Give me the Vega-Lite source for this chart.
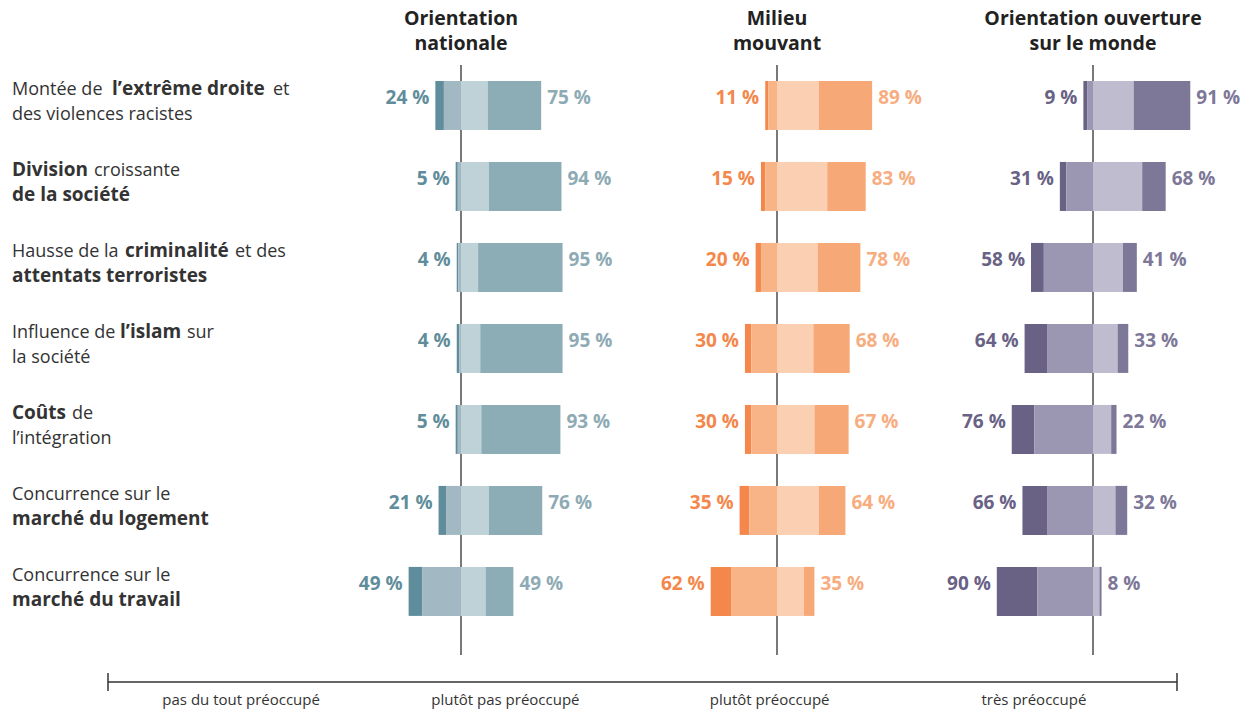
{
  "$schema": "https://vega.github.io/schema/vega-lite/v6.json",
  "padding": {"left": 12, "top": 8, "right": 0, "bottom": 0},
  "spacing": 8,
  "config": {
    "view": {"stroke": null},
    "font": "Open Sans",
    "title": {"font": "Open Sans", "fontSize": 19.5, "fontWeight": "bold", "color": "#222222", "lineHeight": 25, "offset": 10, "anchor": "middle"},
    "text": {"font": "Open Sans"}
  },
  "datasets": {
    "seg": [
      {"g":"nat","t":"Extrême droite","c":"pas du tout","v":-8,"o":2},
      {"g":"nat","t":"Extrême droite","c":"plutôt pas","v":-16,"o":1},
      {"g":"nat","t":"Extrême droite","c":"plutôt","v":25,"o":1},
      {"g":"nat","t":"Extrême droite","c":"très","v":50,"o":2},
      {"g":"nat","t":"Division","c":"pas du tout","v":-2,"o":2},
      {"g":"nat","t":"Division","c":"plutôt pas","v":-3,"o":1},
      {"g":"nat","t":"Division","c":"plutôt","v":26,"o":1},
      {"g":"nat","t":"Division","c":"très","v":68,"o":2},
      {"g":"nat","t":"Criminalité","c":"pas du tout","v":-1.5,"o":2},
      {"g":"nat","t":"Criminalité","c":"plutôt pas","v":-2.5,"o":1},
      {"g":"nat","t":"Criminalité","c":"plutôt","v":16,"o":1},
      {"g":"nat","t":"Criminalité","c":"très","v":79,"o":2},
      {"g":"nat","t":"Islam","c":"pas du tout","v":-2.5,"o":2},
      {"g":"nat","t":"Islam","c":"plutôt pas","v":-1.5,"o":1},
      {"g":"nat","t":"Islam","c":"plutôt","v":18,"o":1},
      {"g":"nat","t":"Islam","c":"très","v":77,"o":2},
      {"g":"nat","t":"Intégration","c":"pas du tout","v":-2,"o":2},
      {"g":"nat","t":"Intégration","c":"plutôt pas","v":-3,"o":1},
      {"g":"nat","t":"Intégration","c":"plutôt","v":19,"o":1},
      {"g":"nat","t":"Intégration","c":"très","v":74,"o":2},
      {"g":"nat","t":"Logement","c":"pas du tout","v":-7,"o":2},
      {"g":"nat","t":"Logement","c":"plutôt pas","v":-14,"o":1},
      {"g":"nat","t":"Logement","c":"plutôt","v":26,"o":1},
      {"g":"nat","t":"Logement","c":"très","v":50,"o":2},
      {"g":"nat","t":"Travail","c":"pas du tout","v":-13,"o":2},
      {"g":"nat","t":"Travail","c":"plutôt pas","v":-36,"o":1},
      {"g":"nat","t":"Travail","c":"plutôt","v":23,"o":1},
      {"g":"nat","t":"Travail","c":"très","v":26,"o":2},

      {"g":"mil","t":"Extrême droite","c":"pas du tout","v":-3,"o":2},
      {"g":"mil","t":"Extrême droite","c":"plutôt pas","v":-8,"o":1},
      {"g":"mil","t":"Extrême droite","c":"plutôt","v":39,"o":1},
      {"g":"mil","t":"Extrême droite","c":"très","v":50,"o":2},
      {"g":"mil","t":"Division","c":"pas du tout","v":-4,"o":2},
      {"g":"mil","t":"Division","c":"plutôt pas","v":-11,"o":1},
      {"g":"mil","t":"Division","c":"plutôt","v":47,"o":1},
      {"g":"mil","t":"Division","c":"très","v":36,"o":2},
      {"g":"mil","t":"Criminalité","c":"pas du tout","v":-5,"o":2},
      {"g":"mil","t":"Criminalité","c":"plutôt pas","v":-15,"o":1},
      {"g":"mil","t":"Criminalité","c":"plutôt","v":38,"o":1},
      {"g":"mil","t":"Criminalité","c":"très","v":40,"o":2},
      {"g":"mil","t":"Islam","c":"pas du tout","v":-6,"o":2},
      {"g":"mil","t":"Islam","c":"plutôt pas","v":-24,"o":1},
      {"g":"mil","t":"Islam","c":"plutôt","v":34,"o":1},
      {"g":"mil","t":"Islam","c":"très","v":34,"o":2},
      {"g":"mil","t":"Intégration","c":"pas du tout","v":-6,"o":2},
      {"g":"mil","t":"Intégration","c":"plutôt pas","v":-24,"o":1},
      {"g":"mil","t":"Intégration","c":"plutôt","v":35,"o":1},
      {"g":"mil","t":"Intégration","c":"très","v":32,"o":2},
      {"g":"mil","t":"Logement","c":"pas du tout","v":-9,"o":2},
      {"g":"mil","t":"Logement","c":"plutôt pas","v":-26,"o":1},
      {"g":"mil","t":"Logement","c":"plutôt","v":39,"o":1},
      {"g":"mil","t":"Logement","c":"très","v":25,"o":2},
      {"g":"mil","t":"Travail","c":"pas du tout","v":-19,"o":2},
      {"g":"mil","t":"Travail","c":"plutôt pas","v":-43,"o":1},
      {"g":"mil","t":"Travail","c":"plutôt","v":25,"o":1},
      {"g":"mil","t":"Travail","c":"très","v":10,"o":2},

      {"g":"ouv","t":"Extrême droite","c":"pas du tout","v":-3.5,"o":2},
      {"g":"ouv","t":"Extrême droite","c":"plutôt pas","v":-5.5,"o":1},
      {"g":"ouv","t":"Extrême droite","c":"plutôt","v":38,"o":1},
      {"g":"ouv","t":"Extrême droite","c":"très","v":53,"o":2},
      {"g":"ouv","t":"Division","c":"pas du tout","v":-6,"o":2},
      {"g":"ouv","t":"Division","c":"plutôt pas","v":-25,"o":1},
      {"g":"ouv","t":"Division","c":"plutôt","v":46,"o":1},
      {"g":"ouv","t":"Division","c":"très","v":22,"o":2},
      {"g":"ouv","t":"Criminalité","c":"pas du tout","v":-12,"o":2},
      {"g":"ouv","t":"Criminalité","c":"plutôt pas","v":-46,"o":1},
      {"g":"ouv","t":"Criminalité","c":"plutôt","v":28,"o":1},
      {"g":"ouv","t":"Criminalité","c":"très","v":13,"o":2},
      {"g":"ouv","t":"Islam","c":"pas du tout","v":-21,"o":2},
      {"g":"ouv","t":"Islam","c":"plutôt pas","v":-43,"o":1},
      {"g":"ouv","t":"Islam","c":"plutôt","v":23,"o":1},
      {"g":"ouv","t":"Islam","c":"très","v":10,"o":2},
      {"g":"ouv","t":"Intégration","c":"pas du tout","v":-21,"o":2},
      {"g":"ouv","t":"Intégration","c":"plutôt pas","v":-55,"o":1},
      {"g":"ouv","t":"Intégration","c":"plutôt","v":17,"o":1},
      {"g":"ouv","t":"Intégration","c":"très","v":5,"o":2},
      {"g":"ouv","t":"Logement","c":"pas du tout","v":-23,"o":2},
      {"g":"ouv","t":"Logement","c":"plutôt pas","v":-43,"o":1},
      {"g":"ouv","t":"Logement","c":"plutôt","v":21,"o":1},
      {"g":"ouv","t":"Logement","c":"très","v":11,"o":2},
      {"g":"ouv","t":"Travail","c":"pas du tout","v":-38,"o":2},
      {"g":"ouv","t":"Travail","c":"plutôt pas","v":-52,"o":1},
      {"g":"ouv","t":"Travail","c":"plutôt","v":6,"o":1},
      {"g":"ouv","t":"Travail","c":"très","v":2,"o":2}
    ],
    "tot": [
      {"g":"nat","t":"Extrême droite","l":-24,"lt":"24 %","r":75,"rt":"75 %"},
      {"g":"nat","t":"Division","l":-5,"lt":"5 %","r":94,"rt":"94 %"},
      {"g":"nat","t":"Criminalité","l":-4,"lt":"4 %","r":95,"rt":"95 %"},
      {"g":"nat","t":"Islam","l":-4,"lt":"4 %","r":95,"rt":"95 %"},
      {"g":"nat","t":"Intégration","l":-5,"lt":"5 %","r":93,"rt":"93 %"},
      {"g":"nat","t":"Logement","l":-21,"lt":"21 %","r":76,"rt":"76 %"},
      {"g":"nat","t":"Travail","l":-49,"lt":"49 %","r":49,"rt":"49 %"},
      {"g":"mil","t":"Extrême droite","l":-11,"lt":"11 %","r":89,"rt":"89 %"},
      {"g":"mil","t":"Division","l":-15,"lt":"15 %","r":83,"rt":"83 %"},
      {"g":"mil","t":"Criminalité","l":-20,"lt":"20 %","r":78,"rt":"78 %"},
      {"g":"mil","t":"Islam","l":-30,"lt":"30 %","r":68,"rt":"68 %"},
      {"g":"mil","t":"Intégration","l":-30,"lt":"30 %","r":67,"rt":"67 %"},
      {"g":"mil","t":"Logement","l":-35,"lt":"35 %","r":64,"rt":"64 %"},
      {"g":"mil","t":"Travail","l":-62,"lt":"62 %","r":35,"rt":"35 %"},
      {"g":"ouv","t":"Extrême droite","l":-9,"lt":"9 %","r":91,"rt":"91 %"},
      {"g":"ouv","t":"Division","l":-31,"lt":"31 %","r":68,"rt":"68 %"},
      {"g":"ouv","t":"Criminalité","l":-58,"lt":"58 %","r":41,"rt":"41 %"},
      {"g":"ouv","t":"Islam","l":-64,"lt":"64 %","r":33,"rt":"33 %"},
      {"g":"ouv","t":"Intégration","l":-76,"lt":"76 %","r":22,"rt":"22 %"},
      {"g":"ouv","t":"Logement","l":-66,"lt":"66 %","r":32,"rt":"32 %"},
      {"g":"ouv","t":"Travail","l":-90,"lt":"90 %","r":8,"rt":"8 %"}
    ],
    "lab": [
      {"t":"Extrême droite","line":"1","k":"n","s":"Montée de"},
      {"t":"Extrême droite","line":"1","k":"ext","s":"l’extrême droite"},
      {"t":"Extrême droite","line":"1","k":"et","s":"et"},
      {"t":"Extrême droite","line":"2","k":"n","s":"des violences racistes"},
      {"t":"Division","line":"1","k":"b","s":"Division"},
      {"t":"Division","line":"1","k":"cro","s":"croissante"},
      {"t":"Division","line":"2","k":"b","s":"de la société"},
      {"t":"Criminalité","line":"1","k":"n","s":"Hausse de la"},
      {"t":"Criminalité","line":"1","k":"cri","s":"criminalité"},
      {"t":"Criminalité","line":"1","k":"etdes","s":"et des"},
      {"t":"Criminalité","line":"2","k":"b","s":"attentats terroristes"},
      {"t":"Islam","line":"1","k":"n","s":"Influence de"},
      {"t":"Islam","line":"1","k":"isl","s":"l’islam"},
      {"t":"Islam","line":"1","k":"sur","s":"sur"},
      {"t":"Islam","line":"2","k":"n","s":"la société"},
      {"t":"Intégration","line":"1","k":"b","s":"Coûts"},
      {"t":"Intégration","line":"1","k":"de","s":"de"},
      {"t":"Intégration","line":"2","k":"n","s":"l’intégration"},
      {"t":"Logement","line":"1","k":"n","s":"Concurrence sur le"},
      {"t":"Logement","line":"2","k":"b","s":"marché du logement"},
      {"t":"Travail","line":"1","k":"n","s":"Concurrence sur le"},
      {"t":"Travail","line":"2","k":"b","s":"marché du travail"}
    ],
    "leg": [
      {"c":"pas du tout préoccupé"},
      {"c":"plutôt pas préoccupé"},
      {"c":"plutôt préoccupé"},
      {"c":"très préoccupé"}
    ]
  },
  "vconcat": [
    {
      "hconcat": [
        {
          "width": 288, "height": 590,
          "title": {"text": [" ", " "]},
          "data": {"name": "lab"},
          "encoding": {
            "y": {"field":"t","type":"nominal","sort":["Extrême droite","Division","Criminalité","Islam","Intégration","Logement","Travail"],"scale":{"type":"band","paddingInner":0.395,"paddingOuter":0.34,"align":0.29},"axis":null},
            "yOffset": {"field":"line","type":"nominal","sort":["1","2"],"scale":{"type":"band","paddingInner":0,"paddingOuter":0}},
            "x": {"datum":0,"type":"quantitative","scale":{"domain":[0,1]},"axis":null},
            "text": {"field":"s"}
          },
          "layer": [
            {"transform":[{"filter":"datum.k == 'n'"}],"mark":{"type":"text","align":"left","baseline":"alphabetic","dy":2,"fontSize":18,"color":"#333333"}},
            {"transform":[{"filter":"datum.k == 'b'"}],"mark":{"type":"text","align":"left","baseline":"alphabetic","dy":2,"fontSize":19,"fontWeight":"bold","color":"#333333"}},
            {"transform":[{"filter":"datum.k == 'ext'"}],"mark":{"type":"text","align":"left","baseline":"alphabetic","dy":2,"dx":100,"fontSize":19,"fontWeight":"bold","color":"#333333"}},
            {"transform":[{"filter":"datum.k == 'et'"}],"mark":{"type":"text","align":"left","baseline":"alphabetic","dy":2,"dx":261,"fontSize":18,"color":"#333333"}},
            {"transform":[{"filter":"datum.k == 'cro'"}],"mark":{"type":"text","align":"left","baseline":"alphabetic","dy":2,"dx":82,"fontSize":18,"color":"#333333"}},
            {"transform":[{"filter":"datum.k == 'cri'"}],"mark":{"type":"text","align":"left","baseline":"alphabetic","dy":2,"dx":113,"fontSize":19,"fontWeight":"bold","color":"#333333"}},
            {"transform":[{"filter":"datum.k == 'etdes'"}],"mark":{"type":"text","align":"left","baseline":"alphabetic","dy":2,"dx":223,"fontSize":18,"color":"#333333"}},
            {"transform":[{"filter":"datum.k == 'isl'"}],"mark":{"type":"text","align":"left","baseline":"alphabetic","dy":2,"dx":108,"fontSize":19,"fontWeight":"bold","color":"#333333"}},
            {"transform":[{"filter":"datum.k == 'sur'"}],"mark":{"type":"text","align":"left","baseline":"alphabetic","dy":2,"dx":175,"fontSize":18,"color":"#333333"}},
            {"transform":[{"filter":"datum.k == 'de'"}],"mark":{"type":"text","align":"left","baseline":"alphabetic","dy":2,"dx":60,"fontSize":18,"color":"#333333"}}
          ]
        },
        {
          "width": 310, "height": 590,
          "title": {"text": ["Orientation", "nationale"]},
          "encoding": {
            "y":{"field":"t","type":"nominal","sort":["Extrême droite","Division","Criminalité","Islam","Intégration","Logement","Travail"],"scale":{"type":"band","paddingInner":0.395,"paddingOuter":0.34,"align":0.29},"axis":null}
          },
          "layer": [
            {"data":{"values":[{}]},"mark":{"type":"rule","color":"#4d4d4d","strokeWidth":1.5},"encoding":{"y":null,"x":{"datum":0,"type":"quantitative","scale":{"domain":[-145,145],"nice":false,"zero":false},"axis":null}}},
            {"data":{"name":"seg"},"transform":[{"filter":"datum.g == 'nat'"}],"mark":{"type":"bar"},
             "encoding":{
               "x":{"field":"v","type":"quantitative","stack":"zero","scale":{"domain":[-145,145],"nice":false,"zero":false},"axis":null},
               "color":{"field":"c","type":"nominal","scale":{"domain":["pas du tout","plutôt pas","plutôt","très"],"range":["#5f8d9b","#a2b9c3","#bfd2d8","#8cacb6"]},"legend":null},
               "order":{"field":"o","type":"quantitative"}
             }},
            {"data":{"name":"tot"},"transform":[{"filter":"datum.g == 'nat'"}],"mark":{"type":"text","align":"right","baseline":"alphabetic","dx":-6,"dy":-1,"fontSize":19,"fontWeight":"bold","color":"#5f8d9b"},
             "encoding":{"x":{"field":"l","type":"quantitative"},"text":{"field":"lt"}}},
            {"data":{"name":"tot"},"transform":[{"filter":"datum.g == 'nat'"}],"mark":{"type":"text","align":"left","baseline":"alphabetic","dx":6,"dy":-1,"fontSize":19,"fontWeight":"bold","color":"#8eabb5"},
             "encoding":{"x":{"field":"r","type":"quantitative"},"text":{"field":"rt"}}}
          ]
        },
        {
          "width": 310, "height": 590,
          "title": {"text": ["Milieu", "mouvant"]},
          "encoding": {
            "y":{"field":"t","type":"nominal","sort":["Extrême droite","Division","Criminalité","Islam","Intégration","Logement","Travail"],"scale":{"type":"band","paddingInner":0.395,"paddingOuter":0.34,"align":0.29},"axis":null}
          },
          "layer": [
            {"data":{"values":[{}]},"mark":{"type":"rule","color":"#4d4d4d","strokeWidth":1.5},"encoding":{"y":null,"x":{"datum":0,"type":"quantitative","scale":{"domain":[-145,145],"nice":false,"zero":false},"axis":null}}},
            {"data":{"name":"seg"},"transform":[{"filter":"datum.g == 'mil'"}],"mark":{"type":"bar"},
             "encoding":{
               "x":{"field":"v","type":"quantitative","stack":"zero","scale":{"domain":[-145,145],"nice":false,"zero":false},"axis":null},
               "color":{"field":"c","type":"nominal","scale":{"domain":["pas du tout","plutôt pas","plutôt","très"],"range":["#f4874b","#f8b487","#fbd0b2","#f6a876"]},"legend":null},
               "order":{"field":"o","type":"quantitative"}
             }},
            {"data":{"name":"tot"},"transform":[{"filter":"datum.g == 'mil'"}],"mark":{"type":"text","align":"right","baseline":"alphabetic","dx":-6,"dy":-1,"fontSize":19,"fontWeight":"bold","color":"#f4874b"},
             "encoding":{"x":{"field":"l","type":"quantitative"},"text":{"field":"lt"}}},
            {"data":{"name":"tot"},"transform":[{"filter":"datum.g == 'mil'"}],"mark":{"type":"text","align":"left","baseline":"alphabetic","dx":6,"dy":-1,"fontSize":19,"fontWeight":"bold","color":"#f7ad80"},
             "encoding":{"x":{"field":"r","type":"quantitative"},"text":{"field":"rt"}}}
          ]
        },
        {
          "width": 310, "height": 590,
          "title": {"text": ["Orientation ouverture", "sur le monde"]},
          "encoding": {
            "y":{"field":"t","type":"nominal","sort":["Extrême droite","Division","Criminalité","Islam","Intégration","Logement","Travail"],"scale":{"type":"band","paddingInner":0.395,"paddingOuter":0.34,"align":0.29},"axis":null}
          },
          "layer": [
            {"data":{"values":[{}]},"mark":{"type":"rule","color":"#4d4d4d","strokeWidth":1.5},"encoding":{"y":null,"x":{"datum":0,"type":"quantitative","scale":{"domain":[-145,145],"nice":false,"zero":false},"axis":null}}},
            {"data":{"name":"seg"},"transform":[{"filter":"datum.g == 'ouv'"}],"mark":{"type":"bar"},
             "encoding":{
               "x":{"field":"v","type":"quantitative","stack":"zero","scale":{"domain":[-145,145],"nice":false,"zero":false},"axis":null},
               "color":{"field":"c","type":"nominal","scale":{"domain":["pas du tout","plutôt pas","plutôt","très"],"range":["#696285","#9b97b3","#c0bccf","#7e7898"]},"legend":null},
               "order":{"field":"o","type":"quantitative"}
             }},
            {"data":{"name":"tot"},"transform":[{"filter":"datum.g == 'ouv'"}],"mark":{"type":"text","align":"right","baseline":"alphabetic","dx":-6,"dy":-1,"fontSize":19,"fontWeight":"bold","color":"#696285"},
             "encoding":{"x":{"field":"l","type":"quantitative"},"text":{"field":"lt"}}},
            {"data":{"name":"tot"},"transform":[{"filter":"datum.g == 'ouv'"}],"mark":{"type":"text","align":"left","baseline":"alphabetic","dx":6,"dy":-1,"fontSize":19,"fontWeight":"bold","color":"#7e7898"},
             "encoding":{"x":{"field":"r","type":"quantitative"},"text":{"field":"rt"}}}
          ]
        }
      ],
      "spacing": 6,
      "resolve": {"scale": {"x": "independent", "y": "independent", "color": "independent"}}
    },
    {
      "width": 1231, "height": 45,
      "layer": [
        {"data":{"values":[{}]},"mark":{"type":"rule","color":"#333333","strokeWidth":1.5},
         "encoding":{"x":{"datum":0,"type":"quantitative","scale":{"domain":[0,1],"range":[96,1165]},"axis":null},"x2":{"datum":1},"y":{"datum":0.4,"type":"quantitative","scale":{"domain":[0,1],"reverse":true},"axis":null}}},
        {"data":{"values":[{}]},"mark":{"type":"rule","color":"#333333","strokeWidth":1.5},
         "encoding":{"x":{"datum":0,"type":"quantitative","scale":{"domain":[0,1],"range":[96,1165]},"axis":null},"y":{"datum":0.2,"type":"quantitative","scale":{"domain":[0,1],"reverse":true},"axis":null},"y2":{"datum":0.6}}},
        {"data":{"values":[{}]},"mark":{"type":"rule","color":"#333333","strokeWidth":1.5},
         "encoding":{"x":{"datum":1,"type":"quantitative","scale":{"domain":[0,1],"range":[96,1165]},"axis":null},"y":{"datum":0.2,"type":"quantitative","scale":{"domain":[0,1],"reverse":true},"axis":null},"y2":{"datum":0.6}}},
        {"data":{"name":"leg"},"mark":{"type":"text","fontSize":15,"color":"#333333","baseline":"middle"},
         "encoding":{"x":{"field":"c","type":"nominal","sort":null,"scale":{"type":"band","range":[97,1154],"paddingInner":0,"paddingOuter":0},"axis":null},"y":{"datum":0.8,"type":"quantitative","scale":{"domain":[0,1],"reverse":true},"axis":null},"text":{"field":"c"}}}
      ],
      "resolve": {"scale": {"x": "independent", "y": "independent"}}
    }
  ]
}
